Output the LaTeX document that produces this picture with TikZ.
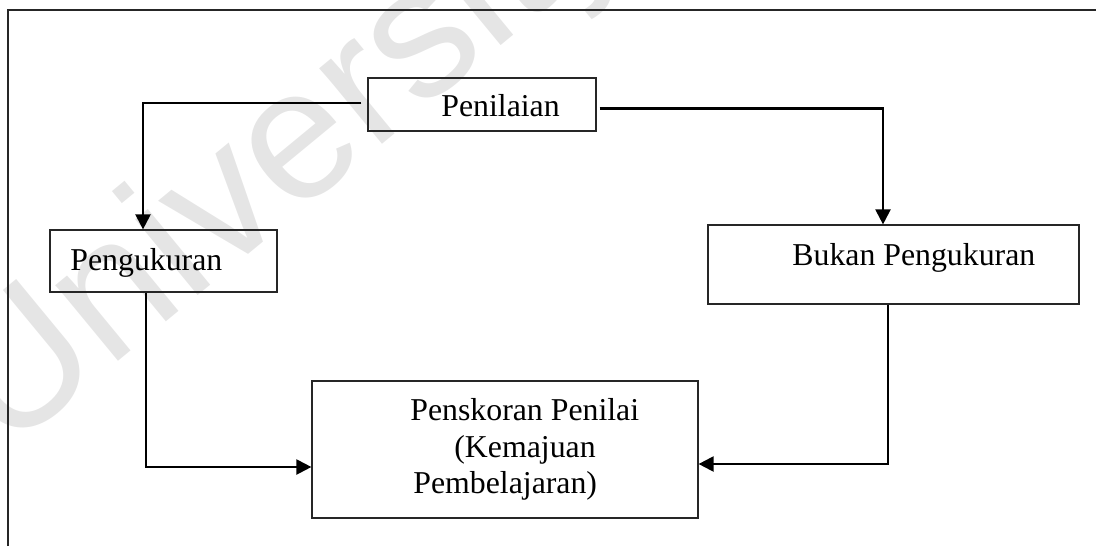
\documentclass[tikz,border=0pt]{standalone}
\usepackage{fontspec}
\setmainfont{Liberation Serif}
\newfontfamily\wmfont{Liberation Sans}
\usetikzlibrary{arrows.meta}
\begin{document}
\begin{tikzpicture}[x=0.5pt,y=-0.5pt,
  box/.style={draw=black!85,line width=0.6pt,minimum width=#1,inner sep=0pt},
  lbl/.style={anchor=base west,inner sep=0pt,font=\fontsize{15.9}{18}\selectfont},
  conn/.style={line width=1.1pt,-{Triangle[length=7.5pt,width=7.5pt]}},
  frameline/.style={line width=0.9pt,draw=black!85}]
\useasboundingbox (0,0) rectangle (1096,546);
% watermark
\node[anchor=base west,inner sep=0pt,rotate=39.5,text=black!10,font=\wmfont\fontsize{93}{93}\selectfont] (wm) at (5,455) {University};
% frame
\coordinate (f1) at (8,546);
\coordinate (f2) at (8,10);
\coordinate (f3) at (1096,10);
\draw[frameline] (f1) -- (f2) -- (f3);
% boxes
\node[box=114pt,minimum height=26.5pt] (pen) at (482,104.5) {};
\node[box=113.5pt,minimum height=31pt] (peng) at (163.5,261) {};
\node[box=185.5pt,minimum height=39.5pt] (bukan) at (893.5,264.5) {};
\node[box=193pt,minimum height=68.5pt] (skor) at (505,449.5) {};
% texts
\node[lbl] (tpen) at (441,116) {Penilaian};
\node[lbl] (tpeng) at (70,270) {Pengukuran};
\node[lbl] (tbukan) at (792,265) {Bukan Pengukuran};
\node[lbl] (tsk1) at (410,420) {Penskoran Penilai};
\node[lbl] (tsk2) at (454,457) {(Kemajuan};
\node[lbl] (tsk3) at (413,493) {Pembelajaran)};
% connectors
\draw[conn] ([xshift=-3pt,yshift=0.75pt]pen.west) -| ([xshift=-10.25pt]peng.north);
\draw[conn] ([xshift=1.5pt,yshift=-2pt]pen.east) -| ([xshift=-5.25pt]bukan.north);
\draw[conn] ([xshift=-8.75pt]peng.south) |- ([yshift=-8.75pt]skor.west);
\draw[conn] ([xshift=-2.75pt]bukan.south) |- ([yshift=-7.25pt]skor.east);
\end{tikzpicture}
\end{document}
